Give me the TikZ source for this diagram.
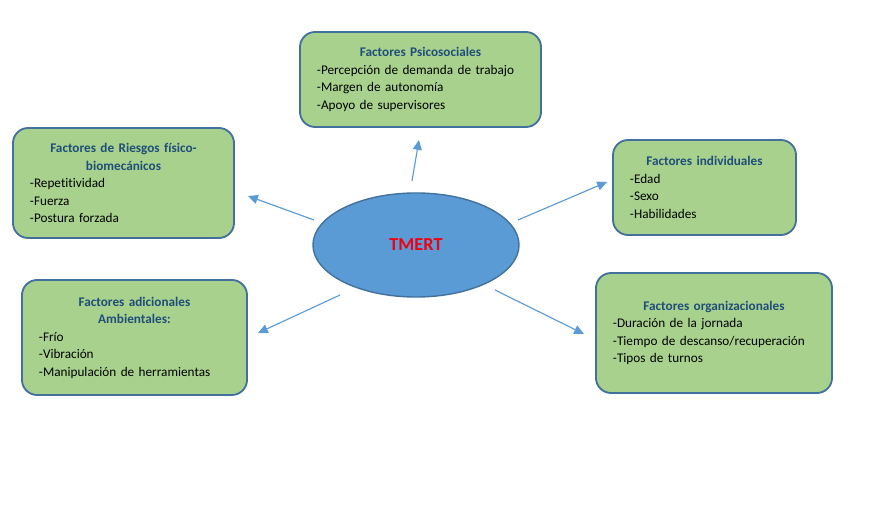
\documentclass[tikz,border=0pt]{standalone}
\usepackage{fontspec}
\setmainfont{Carlito}[Ligatures=NoCommon]
\usetikzlibrary{arrows.meta,shapes.geometric}
\definecolor{verde}{HTML}{A9D18E}
\definecolor{borde}{HTML}{41719C}
\definecolor{azul}{HTML}{5B9BD5}
\definecolor{titulo}{HTML}{1F4E79}
\definecolor{rojo}{HTML}{F00010}
\newcommand{\titulo}[1]{{\centering\color{titulo}\bfseries #1\par}}

\begin{document}
\begin{tikzpicture}[x=0.025cm,y=-0.025cm,
  caja/.style={draw=borde,line width=1.3pt,fill=verde,rounded corners=0.38cm,
    inner xsep=0.425cm,inner ysep=0pt,align=left,
    font=\fontsize{9.4}{12.45}\selectfont},
  nucleo/.style={ellipse,draw=borde,line width=1pt,fill=azul,inner sep=0pt,
    minimum width=5.15cm,minimum height=2.6cm},
  flecha/.style={draw=azul,line width=0.8pt,-{Triangle[length=7pt,width=6.4pt]}}]
\useasboundingbox[fill=white] (0,0) rectangle (884,511);
\node[caja,minimum width=6.025cm,minimum height=2.375cm,text width=5.175cm] (psico) at (420.5,79.5)
  {\titulo{Factores Psicosociales}-Percepción de demanda de trabajo\\-Margen de autonomía\\-Apoyo de supervisores};
\node[caja,minimum width=5.525cm,minimum height=2.75cm,text width=4.675cm] (riesgos) at (123.5,183)
  {\titulo{Factores de Riesgos físico-\\biomecánicos}-Repetitividad\\-Fuerza\\-Postura forzada};
\node[caja,minimum width=4.575cm,minimum height=2.375cm,text width=3.725cm] (indiv) at (704.5,187.5)
  {\titulo{Factores individuales}-Edad\\-Sexo\\-Habilidades};
\node[caja,minimum width=5.625cm,minimum height=2.875cm,text width=4.775cm] (ambient) at (134.5,337.5)
  {\titulo{Factores adicionales\\Ambientales:}-Frío\\-Vibración\\-Manipulación de herramientas};
\node[caja,minimum width=5.9cm,minimum height=3cm,text width=5.05cm] (organiz) at (714,333)
  {\titulo{Factores organizacionales}-Duración de la jornada\\-Tiempo de descanso/recuperación\\-Tipos de turnos};
\node[nucleo] (tmert) at (416,245) {\fontsize{13}{15}\selectfont\bfseries\color{rojo}TMERT};
% extremos de las flechas
\coordinate (a1) at (314,220); \coordinate (b1) at (248,196);
\coordinate (a2) at (412,181); \coordinate (b2) at (419,140);
\coordinate (a3) at (518,220); \coordinate (b3) at (607,182);
\coordinate (a4) at (340,295); \coordinate (b4) at (258,333);
\coordinate (a5) at (495,290); \coordinate (b5) at (584,334);
\draw[flecha] (a1) -- (b1);
\draw[flecha] (a2) -- (b2);
\draw[flecha] (a3) -- (b3);
\draw[flecha] (a4) -- (b4);
\draw[flecha] (a5) -- (b5);
\end{tikzpicture}
\end{document}
